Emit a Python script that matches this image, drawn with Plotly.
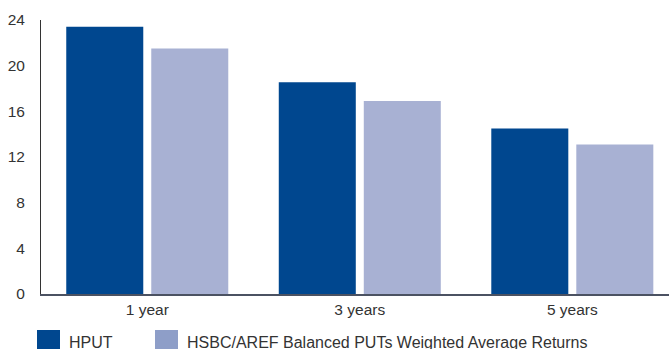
import plotly.graph_objects as go

categories = ["1 year", "3 years", "5 years"]
hput = [23.4, 18.55, 14.5]
hsbc = [21.5, 16.9, 13.1]
series_names = ["HPUT", "HSBC/AREF Balanced PUTs Weighted Average Returns"]
y_ticks = [0, 4, 8, 12, 16, 20, 24]

W, H = 669, 349
L, R, T, B = 41, 0, 20, 55
pw, ph = W - L - R, H - T - B

def px_x(x):
    return (x - L) / pw

def px_y(y):
    return (H - B - y) / ph

dark = "#00478f"
light = "#a8b1d3"
light_legend = "#8e9ec8"
font = "Liberation Sans, Arial, sans-serif"

fig = go.Figure()
fig.add_trace(go.Bar(x=categories, y=hput, name=series_names[0],
                     marker=dict(color=dark, line=dict(width=0)), showlegend=False))
fig.add_trace(go.Bar(x=categories, y=hsbc, name=series_names[1],
                     marker=dict(color=light, line=dict(width=0)), showlegend=False))

# custom legend
shapes = []
annotations = []
legend_items = [(37, 60, dark, 67, series_names[0]), (155, 178, light_legend, 185, series_names[1])]
for x0, x1, col, tx, name in legend_items:
    shapes.append(dict(type="rect", xref="paper", yref="paper",
                       x0=px_x(x0), x1=px_x(x1), y0=px_y(330), y1=px_y(352),
                       fillcolor=col, line=dict(width=0), layer="above"))
    annotations.append(dict(xref="paper", yref="paper", x=px_x(tx), y=px_y(342),
                            text=name, showarrow=False, xanchor="left", yanchor="middle",
                            font=dict(family=font, size=16, color="#333333")))

fig.update_layout(
    width=W, height=H,
    margin=dict(l=L, r=R, t=T, b=B, pad=0),
    paper_bgcolor="white", plot_bgcolor="white",
    barmode="group", bargap=0.2, bargroupgap=0.094,
    font=dict(family=font, size=15.5, color="#333333"),
    shapes=shapes, annotations=annotations,
    xaxis=dict(range=[-0.5, 2.455], showline=True, linecolor="#4b5262", linewidth=2,
               showgrid=False, ticks="", zeroline=False, fixedrange=True,
               tickfont=dict(family=font, size=15.5, color="#333333")),
    yaxis=dict(range=[0, 24], tickvals=y_ticks, showline=True, linecolor="#333333",
               linewidth=1, showgrid=False, zeroline=False, ticks="",
               ticklabelstandoff=12,
               tickfont=dict(family=font, size=15.5, color="#333333")),
)

fig.write_html("out.html")
